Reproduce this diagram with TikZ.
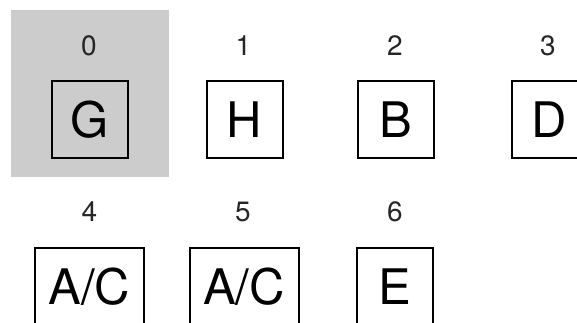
\documentclass[tikz,border=0pt]{standalone}
\usepackage{fontspec}
\setmainfont{TeX Gyre Heros}
\definecolor{cellgray}{HTML}{CCCCCC}
\tikzset{
  cellbox/.style={draw=black, line width=2pt, minimum width=76pt, minimum height=77pt, inner sep=0pt,
    font=\fontsize{49}{49}\selectfont},
  widebox/.style={cellbox, minimum width=109pt},
  idx/.style={inner sep=0pt, text=black!85, font=\fontsize{28}{28}\selectfont}
}
\begin{document}
\begin{tikzpicture}[x=1pt,y=-1pt]
\useasboundingbox (0,0) rectangle (577,322);
\clip (0,0) rectangle (577,322);
\fill[cellgray] (11,10) rectangle (169,177);
\node[idx] (l0) at (89,46) {0};
\node[idx] (l1) at (243.5,46) {1};
\node[idx] (l2) at (395,46) {2};
\node[idx] (l3) at (548,46) {3};
\node[cellbox] (b0) at (89.5,119.5) {G};
\node[cellbox] (b1) at (244.5,119.5) {H};
\node[cellbox] (b2) at (395.5,119.5) {B};
\node[cellbox] (b3) at (549.5,119.5) {D};
\node[idx] (l4) at (89.5,212) {4};
\node[idx] (l5) at (243,212) {5};
\node[idx] (l6) at (395,212) {6};
\node[widebox] (b4) at (89.5,286.5) {A/C};
\node[widebox] (b5) at (244,286.5) {A/C};
\node[cellbox] (b6) at (395,286.5) {E};
\end{tikzpicture}
\end{document}
